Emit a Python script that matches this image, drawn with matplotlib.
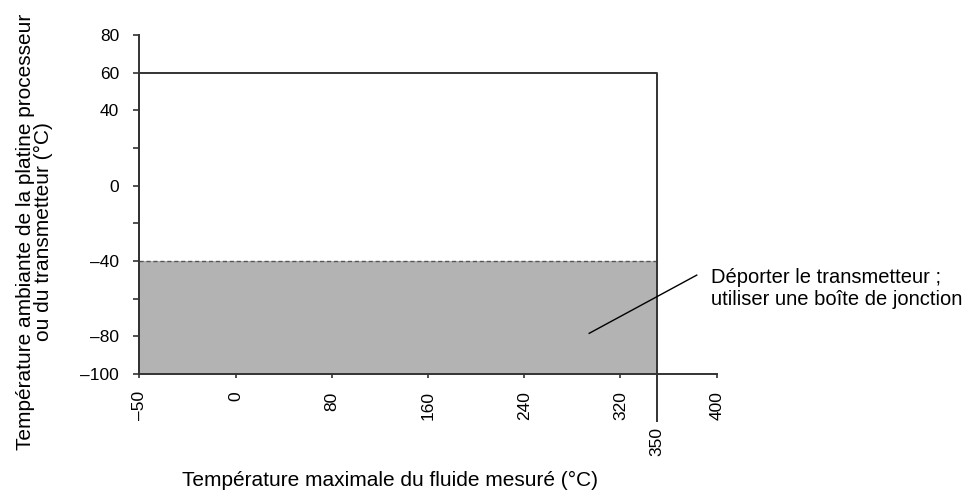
import numpy as np
import matplotlib
matplotlib.use("Agg")
import matplotlib.pyplot as plt

plt.rcParams["font.family"] = ["Liberation Sans", "DejaVu Sans"]

# Axis ticks (the x axis is drawn with evenly spaced major ticks)
x_ticks = [-50, 0, 80, 160, 240, 320, 400]
x_limit_tick = [350]
y_ticks = [-100, -80, -60, -40, -20, 0, 20, 40, 60, 80]
y_labeled = [-100, -80, -40, 0, 40, 60, 80]

# Operating region
fluid_min, fluid_max = -50, 350
ambient_min, ambient_max = -100, 60
remote_limit = -40  # below this: remote mount the transmitter

note_text = "Déporter le transmetteur ;\nutiliser une boîte de jonction"
note_point = (294, -78.4)
note_end = (383.4, -47.5)
note_pos = (395, -54.5)

dark = "#333333"
grey = "#b3b3b3"

idx = np.arange(len(x_ticks))


def fwd(v):
    return np.interp(v, x_ticks, idx)


def inv(v):
    return np.interp(v, idx, x_ticks)


def fmt(v):
    # the original uses a long dash for negative numbers
    return str(v).replace("-", "\u2013")


fig = plt.figure(figsize=(9.69, 4.91), dpi=100)
ax = fig.add_axes([139.3 / 969, 1 - 374 / 491, 577.4 / 969, 339 / 491])
ax.set_xscale("function", functions=(fwd, inv))
ax.set_xlim(x_ticks[0], x_ticks[-1])
ax.set_ylim(y_ticks[0], y_ticks[-1])

# grey zone under the -40 limit
ax.fill_between([fluid_min, fluid_max], ambient_min, remote_limit,
                color=grey, lw=0, zorder=1)
ax.plot([fluid_min, fluid_max], [remote_limit, remote_limit],
        color="#555555", lw=1.0, ls=(0, (3, 2)), zorder=2)
ax.plot([fluid_min, fluid_min, fluid_max, fluid_max],
        [ambient_min, ambient_max, ambient_max, ambient_min],
        color=dark, lw=1.4, zorder=3, clip_on=False)

# annotation
ax.plot([note_point[0], note_end[0]], [note_point[1], note_end[1]],
        color="black", lw=1.0, clip_on=False, zorder=4)
ax.text(note_pos[0], note_pos[1], note_text, fontsize=14.5, ha="left",
        va="center", linespacing=1.2)

for side in ["top", "right"]:
    ax.spines[side].set_visible(False)
for side in ["left", "bottom"]:
    ax.spines[side].set_color(dark)
    ax.spines[side].set_linewidth(1.4)

ax.set_xticks(x_ticks)
ax.set_xticklabels([fmt(v) for v in x_ticks], rotation=90, fontsize=12.5)
ax.set_xticks(x_limit_tick, minor=True)
ax.set_xticklabels([fmt(v) for v in x_limit_tick], minor=True,
                   rotation=90, fontsize=12.5)
ax.tick_params(axis="x", which="major", length=3, width=1.2, color=dark, pad=9.5)
ax.tick_params(axis="x", which="minor", length=34.5, width=1.4, color=dark, pad=3.5)

ax.set_yticks(y_ticks)
ax.set_yticklabels([(fmt(v) if v in y_labeled else "") for v in y_ticks],
                   fontsize=12.5)
ax.tick_params(axis="y", length=4, width=1.2, color=dark, pad=10.5)

ax.set_xlabel("Température maximale du fluide mesuré (°C)", fontsize=15,
              va="baseline")
ax.xaxis.set_label_coords(0.434, -0.330)
ax.set_ylabel("Température ambiante de la platine processeur\nou du transmetteur (°C)",
              fontsize=15, va="center", linespacing=0.95)
ax.yaxis.set_label_coords(-0.182, 0.419)

fig.savefig("out.png", dpi=100)
